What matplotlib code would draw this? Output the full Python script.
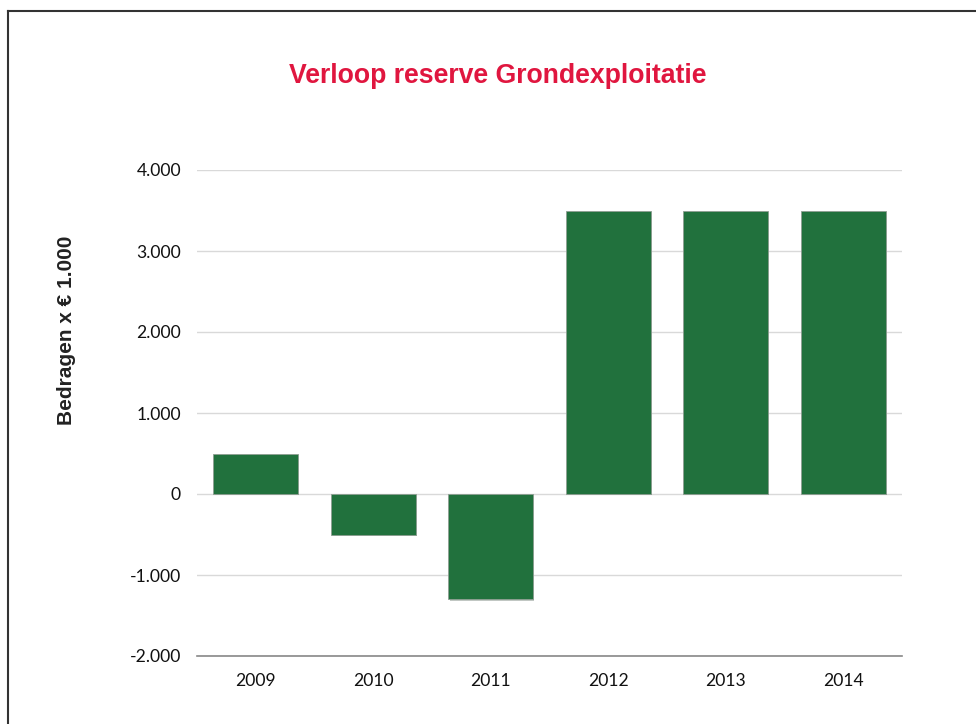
import matplotlib.pyplot as plt
from matplotlib.lines import Line2D
import matplotlib.patheffects as pe

# data
years = ["2009", "2010", "2011", "2012", "2013", "2014"]
values = [500, -500, -1300, 3500, 3500, 3500]
y_ticks = [-2000, -1000, 0, 1000, 2000, 3000, 4000]
y_tick_labels = ["-2.000", "-1.000", "0", "1.000", "2.000", "3.000", "4.000"]

fig = plt.figure(figsize=(9.76, 7.24), dpi=100)
ax = fig.add_axes([197 / 976, 1 - 656 / 724, 705 / 976, 486 / 724])

x = range(len(years))
bars = ax.bar(x, values, width=0.72, color="#21713d", zorder=3,
              edgecolor="#8f9f93", linewidth=0.6)
for b in bars:
    b.set_path_effects([pe.SimplePatchShadow(offset=(1, -1), alpha=0.25),
                        pe.Normal()])

ax.set_xlim(-0.5, len(years) - 0.5)
ax.set_ylim(-2000, 4000)
ax.set_yticks(y_ticks)
ax.set_yticklabels(y_tick_labels)
ax.set_xticks(list(x))
ax.set_xticklabels(years)

ax.grid(axis="y", color="#d9d9d9", linewidth=1, zorder=0)
ax.tick_params(length=0, labelsize=12.6, labelcolor="#111111")
ax.tick_params(axis="y", pad=11.5)
ax.tick_params(axis="x", pad=12)
for lab in ax.get_xticklabels() + ax.get_yticklabels():
    lab.set_family("Lato")

for side in ["top", "right", "left"]:
    ax.spines[side].set_visible(False)
ax.spines["bottom"].set_color("#888888")
ax.spines["bottom"].set_linewidth(1.2)
ax.spines["bottom"].set_zorder(4)

fig.text(498 / 976, 1 - 76 / 724, "Verloop reserve Grondexploitatie",
         ha="center", va="center", color="#e0163f", fontsize=19.2,
         fontweight="bold", family="Liberation Sans")
fig.text(66 / 976, 1 - 330 / 724, "Bedragen x € 1.000", rotation=90,
         ha="center", va="center", color="#222222", fontsize=15,
         fontweight="bold", family="Liberation Sans")

# page border (left and top only)
fig.add_artist(Line2D([7.5 / 976, 7.5 / 976], [0, 1 - 10.5 / 724],
                      transform=fig.transFigure, color="#333333", linewidth=1.5))
fig.add_artist(Line2D([7.5 / 976, 1], [1 - 10.5 / 724, 1 - 10.5 / 724],
                      transform=fig.transFigure, color="#333333", linewidth=1.5))

fig.savefig("out.png", dpi=100)
